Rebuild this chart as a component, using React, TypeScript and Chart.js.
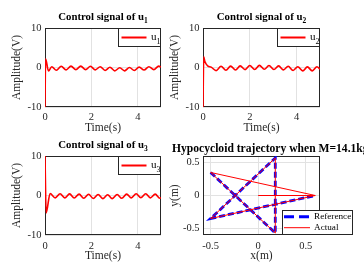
import React, { useEffect, useRef } from "react";
import { Chart, registerables } from "chart.js";
Chart.register(...registerables);

// ---------------- data ----------------
const u1Time = [0, 0.025, 0.15, 0.29, 0.49, 0.7, 0.91, 1.12, 1.33, 1.54, 1.75, 1.96, 2.17, 2.38, 2.59, 2.8, 3.01, 3.22, 3.43, 3.64, 3.85, 4.06, 4.27, 4.48, 4.69, 4.9, 5.0];
const u1Value = [-10, 2.2, -0.9, 0.2, -0.7, 0.3, -0.6, 0.35, -0.55, 0.35, -0.55, 0.3, -0.6, 0.2, -0.75, 0.05, -0.85, -0.05, -0.85, 0.0, -0.75, 0.1, -0.65, 0.2, -0.55, 0.35, 0.1];

const u2Time = [0, 0.03, 0.08, 0.2, 0.35, 0.56, 0.77, 0.98, 1.18, 1.39, 1.59, 1.8, 2.0, 2.21, 2.41, 2.62, 2.82, 3.03, 3.23, 3.44, 3.64, 3.85, 4.05, 4.26, 4.46, 4.67, 4.87, 5.0];
const u2Value = [-10, 2.7, 1.5, 0.4, 0.1, -0.8, 0.3, -0.7, 0.35, -0.65, 0.4, -0.55, 0.5, -0.5, 0.55, -0.45, 0.5, -0.5, 0.4, -0.6, 0.3, -0.75, 0.2, -0.85, 0.15, -0.85, 0.2, -0.4];

const u3Time = [0, 0.05, 0.22, 0.44, 0.65, 0.85, 1.06, 1.26, 1.47, 1.67, 1.88, 2.08, 2.29, 2.49, 2.7, 2.9, 3.11, 3.31, 3.52, 3.72, 3.93, 4.13, 4.34, 4.54, 4.75, 4.95, 5.0];
const u3Value = [10, -4.4, 0.5, -0.6, 0.45, -0.6, 0.4, -0.65, 0.35, -0.7, 0.3, -0.75, 0.25, -0.8, 0.2, -0.8, 0.25, -0.7, 0.35, -0.6, 0.45, -0.55, 0.45, -0.6, 0.35, -0.7, -0.5];

const refX = [-0.5, 0.18, 0.18, -0.5, 0.6];
const refY = [0.35, -0.57, 0.57, -0.35, 0];
const actX = [0, 0.6, -0.5, 0.18, 0.18, -0.5, 0.6];
const actY = [0, 0, 0.35, -0.57, 0.57, -0.35, 0];

const timeTicks = [0, 2, 4];
const ampTicks = [-10, 0, 10];
const posTicks = [-0.5, 0, 0.5];

// ---------------- styling ----------------
const FONT = "'Liberation Serif', 'Times New Roman', Times, serif";
const AX = "#262626";
const GRID = "#e2e2e2";
const RED = "#ff0000";
const BLUE = "#0000ff";

const pts = (xs: number[], ys: number[]) => xs.map((x, i) => ({ x, y: ys[i] }));

const decorPlugin = {
  id: "decor",
  beforeDatasetsDraw(chart: any) {
    const { ctx, chartArea: a } = chart;
    ctx.save();
    ctx.strokeStyle = AX;
    ctx.lineWidth = 1;
    ctx.strokeRect(a.left + 0.5, a.top + 0.5, a.right - a.left - 1, a.bottom - a.top - 1);
    ctx.restore();
  },
  afterDraw(chart: any, _args: any, opts: any) {
    const { ctx, chartArea: a } = chart;
    ctx.save();
    // title
    const t = opts.title;
    ctx.fillStyle = "#000";
    ctx.textBaseline = "alphabetic";
    ctx.textAlign = "left";
    ctx.font = `bold ${t.size}px ${FONT}`;
    const wMain = ctx.measureText(t.main).width;
    ctx.font = `bold ${t.subSize}px ${FONT}`;
    const wSub = t.sub ? ctx.measureText(t.sub).width : 0;
    const cx = (a.left + a.right) / 2;
    const x0 = t.startDx !== undefined ? a.left + t.startDx : cx - (wMain + wSub) / 2;
    const y0 = a.top - t.offset;
    ctx.font = `bold ${t.size}px ${FONT}`;
    ctx.fillText(t.main, x0, y0);
    if (t.sub) {
      ctx.font = `bold ${t.subSize}px ${FONT}`;
      ctx.fillText(t.sub, x0 + wMain, y0 + t.subDrop);
    }
    // legend
    const lg = opts.legend;
    const bl = lg.fromRight ? a.right - lg.w : a.left + lg.dx;
    const bt = lg.fromBottom ? a.bottom - lg.h : a.top;
    ctx.fillStyle = "#fff";
    ctx.fillRect(bl, bt, lg.w, lg.h);
    ctx.strokeStyle = AX;
    ctx.lineWidth = 1;
    ctx.strokeRect(bl + 0.5, bt + 0.5, lg.w - 1, lg.h - 1);
    for (const it of lg.items) {
      const yy = bt + it.row;
      ctx.beginPath();
      ctx.strokeStyle = it.color;
      ctx.lineWidth = it.width;
      ctx.setLineDash(it.dash || []);
      ctx.moveTo(bl + lg.x0, yy);
      ctx.lineTo(bl + lg.x1, yy);
      ctx.stroke();
      ctx.setLineDash([]);
      ctx.fillStyle = "#000";
      ctx.textBaseline = "middle";
      ctx.font = `${lg.size}px ${FONT}`;
      ctx.fillText(it.label, bl + lg.tx, yy);
      if (it.sub) {
        const w = ctx.measureText(it.label).width;
        ctx.font = `${lg.subSize}px ${FONT}`;
        ctx.fillText(it.sub, bl + lg.tx + w, yy + lg.subDrop);
      }
    }
    ctx.restore();
  },
};

type Spec = {
  box: [number, number, number, number];
  area: [number, number, number, number];
  xr: [number, number];
  yr: [number, number];
  xTicks: number[];
  yTicks: number[];
  xTitle: string;
  yTitle: string;
  xTitlePad: number;
  xTickPad: number;
  datasets: any[];
  decor: any;
};

function makeConfig(s: Spec): any {
  const [, , W, H] = s.box;
  const [al, at, ar, ab] = s.area;
  return {
    type: "line",
    data: { datasets: s.datasets },
    plugins: [decorPlugin],
    options: {
      responsive: false,
      animation: false,
      devicePixelRatio: 1,
      layout: { padding: { left: 0, top: at, right: W - ar, bottom: 0 } },
      plugins: {
        legend: { display: false },
        title: { display: false },
        tooltip: { enabled: false },
        decor: s.decor,
      },
      elements: { point: { radius: 0 } },
      scales: {
        x: {
          type: "linear",
          min: s.xr[0],
          max: s.xr[1],
          afterFit: (sc: any) => {
            sc.height = H - ab;
          },
          afterBuildTicks: (sc: any) => {
            sc.ticks = s.xTicks.map((v) => ({ value: v }));
          },
          ticks: {
            color: AX,
            font: { family: FONT, size: 10.5 },
            padding: s.xTickPad,
            maxRotation: 0,
            autoSkip: false,
            callback: (v: number) => String(v),
          },
          grid: { color: GRID, lineWidth: 1, drawTicks: false },
          border: { display: false },
          title: {
            display: true,
            text: s.xTitle,
            color: AX,
            font: { family: FONT, size: 11.5 },
            padding: { top: 0, bottom: s.xTitlePad },
          },
        },
        y: {
          type: "linear",
          min: s.yr[0],
          max: s.yr[1],
          afterFit: (sc: any) => {
            sc.width = al;
          },
          afterBuildTicks: (sc: any) => {
            sc.ticks = s.yTicks.map((v) => ({ value: v }));
          },
          ticks: {
            color: AX,
            font: { family: FONT, size: 10.5 },
            padding: 3.5,
            autoSkip: false,
            callback: (v: number) => String(v),
          },
          grid: { color: GRID, lineWidth: 1, drawTicks: false },
          border: { display: false },
          title: {
            display: true,
            text: s.yTitle,
            color: AX,
            font: { family: FONT, size: 11.5 },
            padding: { top: 10.5, bottom: 0 },
          },
        },
      },
    },
  };
}

const uLegend = (n: string) => ({
  fromRight: true,
  fromBottom: false,
  w: 43,
  h: 19,
  x0: 3.5,
  x1: 28.5,
  tx: 33,
  size: 11,
  subSize: 8,
  subDrop: 4,
  items: [{ label: "u", sub: n, color: RED, width: 2, row: 9.5 }],
});

const uTitle = (n: string) => ({ main: "Control signal of u", sub: n, size: 10.8, subSize: 7.5, subDrop: 3.5, offset: 8.5 });

const uLine = (xs: number[], ys: number[], n: string) => ({
  label: "u" + n,
  data: pts(xs, ys),
  borderColor: RED,
  borderWidth: 1.6,
  cubicInterpolationMode: "monotone",
  pointRadius: 0,
  fill: false,
});

const specs: Spec[] = [
  {
    box: [0, 0, 182, 136],
    area: [45, 28, 161, 107],
    xr: [0, 5],
    yr: [-10, 10],
    xTicks: timeTicks,
    yTicks: ampTicks,
    xTitle: "Time(s)",
    yTitle: "Amplitude(V)",
    xTitlePad: 1.4,
    xTickPad: 3.8,
    datasets: [uLine(u1Time, u1Value, "1")],
    decor: { title: uTitle("1"), legend: uLegend("1") },
  },
  {
    box: [158, 0, 206, 136],
    area: [45, 28, 162, 107],
    xr: [0, 5],
    yr: [-10, 10],
    xTicks: timeTicks,
    yTicks: ampTicks,
    xTitle: "Time(s)",
    yTitle: "Amplitude(V)",
    xTitlePad: 1.4,
    xTickPad: 3.8,
    datasets: [uLine(u2Time, u2Value, "2")],
    decor: { title: uTitle("2"), legend: uLegend("2") },
  },
  {
    box: [0, 136, 182, 137],
    area: [45, 20, 161, 99],
    xr: [0, 5],
    yr: [-10, 10],
    xTicks: timeTicks,
    yTicks: ampTicks,
    xTitle: "Time(s)",
    yTitle: "Amplitude(V)",
    xTitlePad: 10.4,
    xTickPad: 4.8,
    datasets: [uLine(u3Time, u3Value, "3")],
    decor: { title: uTitle("3"), legend: uLegend("3") },
  },
  {
    box: [158, 136, 206, 137],
    area: [45, 20, 162, 99],
    xr: [-0.58, 0.65],
    yr: [-0.6, 0.6],
    xTicks: posTicks,
    yTicks: posTicks,
    xTitle: "x(m)",
    yTitle: "y(m)",
    xTitlePad: 10.4,
    xTickPad: 4.8,
    datasets: [
      {
        label: "Reference",
        data: pts(refX, refY),
        borderColor: BLUE,
        borderWidth: 2.8,
        borderDash: [6, 3],
        pointRadius: 0,
        order: 1,
        fill: false,
      },
      {
        label: "Actual",
        data: pts(actX, actY),
        borderColor: RED,
        borderWidth: 1,
        pointRadius: 0,
        order: 0,
        fill: false,
      },
    ],
    decor: {
      title: { main: "Hypocycloid trajectory when M=14.1kg", sub: "", size: 11.6, subSize: 7, subDrop: 0, offset: 4.5, startDx: -31 },
      legend: {
        fromRight: false,
        fromBottom: true,
        dx: 79,
        w: 71,
        h: 25,
        x0: 2,
        x1: 28,
        tx: 32,
        size: 9.2,
        subSize: 7,
        subDrop: 3,
        items: [
          { label: "Reference", color: BLUE, width: 3, dash: [10, 5], row: 6.7 },
          { label: "Actual", color: RED, width: 1, row: 17.7 },
        ],
      },
    },
  },
];

function Plot({ spec }: { spec: Spec }) {
  const ref = useRef<HTMLCanvasElement | null>(null);
  useEffect(() => {
    if (!ref.current) return;
    const chart = new Chart(ref.current, makeConfig(spec));
    return () => chart.destroy();
  }, [spec]);
  const [l, t, w, h] = spec.box;
  return (
    <canvas
      ref={ref}
      width={w}
      height={h}
      style={{ position: "absolute", left: l, top: t, width: w, height: h }}
    />
  );
}

export default function App() {
  useEffect(() => {
    document.body.style.margin = "0";
    document.body.style.overflow = "hidden";
    document.body.style.background = "#fff";
  }, []);
  return (
    <div style={{ position: "absolute", left: 0, top: 0, width: 364, height: 273, overflow: "hidden", background: "#fff" }}>
      {specs.map((s, i) => (
        <Plot key={i} spec={s} />
      ))}
    </div>
  );
}
